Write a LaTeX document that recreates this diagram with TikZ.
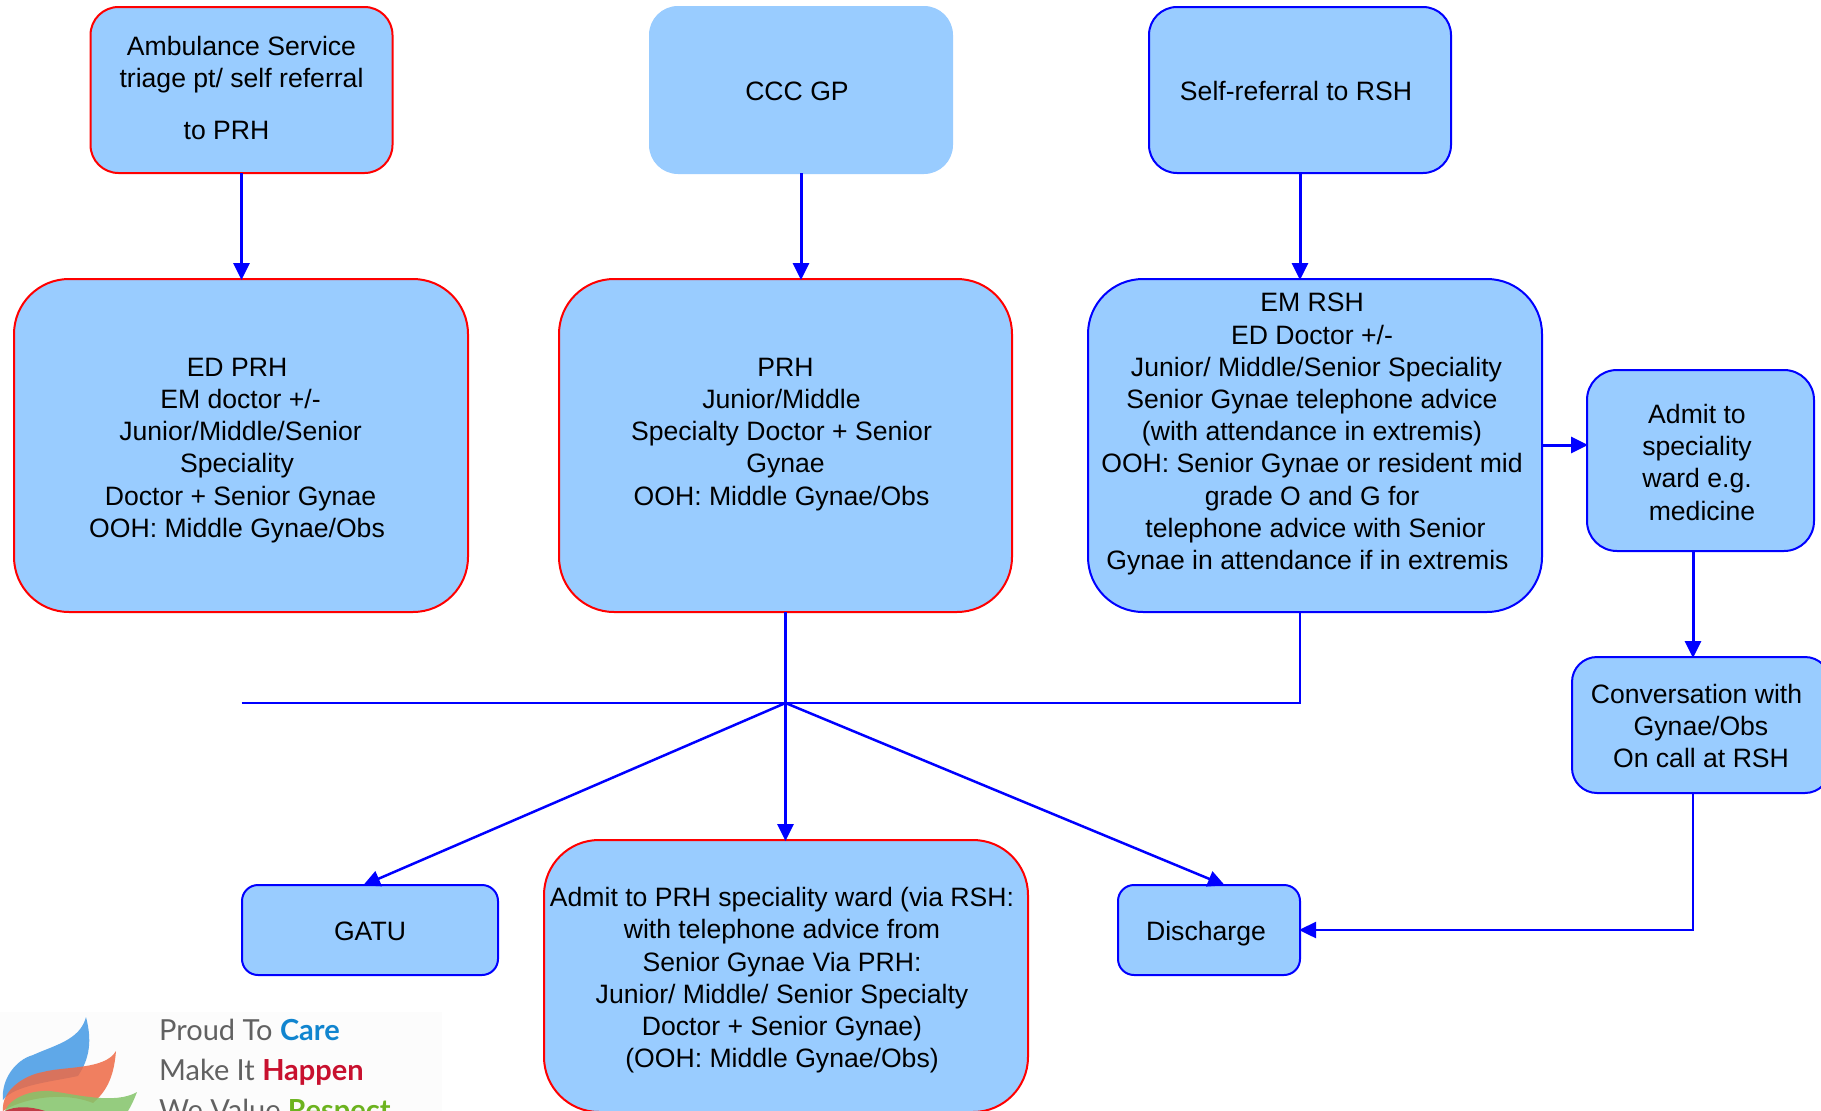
\documentclass[tikz,border=0pt]{standalone}
\usepackage{fontspec}
\setmainfont{Liberation Sans}
\newfontfamily\logofont{Lato}
\usetikzlibrary{arrows.meta}
\definecolor{boxfill}{HTML}{99CCFF}
\definecolor{logoblue}{HTML}{1185CF}
\definecolor{logored}{HTML}{C8102E}
\definecolor{logogreen}{HTML}{6CB31F}
\definecolor{leafblue}{HTML}{5FA8E8}
\definecolor{leafred}{HTML}{EE6A45}
\definecolor{leafgreen}{HTML}{84C46A}
\newcommand\tx[3]{\makebox[0pt]{\hspace*{#1}\raisebox{#2}[0pt][0pt]{\begin{tabular}[c]{@{}c@{}}#3\end{tabular}}}}
\tikzset{
  box/.style={draw=#1,fill=boxfill,line width=2pt,inner sep=0pt,outer sep=0pt,font=\fontsize{26.6}{32.2}\selectfont},
  box/.default=blue,
  flow/.style={draw=blue,line width=3pt,-{Triangle[length=17pt,width=16pt]},shorten >=-1pt},
  flowthin/.style={flow,line width=2.5pt},
  plain/.style={draw=blue,line width=2.2pt},
  logotext/.style={inner sep=0pt,anchor=base west,font=\logofont\fontsize{29}{32}\selectfont,text=black!62}
}
\begin{document}
\begin{tikzpicture}[x=1pt,y=-1pt]
\clip (0,0) rectangle (1821,1111);
\fill[white] (0,0) rectangle (1821,1111);
% logo
\fill[black!1] (0,1012) rectangle (442,1111);
\fill[leafblue] (86,1017) .. controls (92,1040) and (90,1058) .. (78,1076) .. controls (50,1082) and (15,1085) .. (3,1100) .. controls (1,1080) and (15,1060) .. (33,1055) .. controls (55,1045) and (80,1040) .. (86,1017) -- cycle;
\fill[leafred,opacity=.85] (116,1051) .. controls (114,1075) and (108,1090) .. (93,1103) .. controls (60,1090) and (20,1100) .. (3,1111) .. controls (1,1090) and (25,1075) .. (43,1072) .. controls (65,1066) and (105,1070) .. (116,1051) -- cycle;
\fill[leafgreen,opacity=.85] (137,1092) .. controls (134,1100) and (131,1106) .. (128,1111) -- (5,1111) .. controls (10,1098) and (30,1090) .. (50,1091) .. controls (75,1094) and (115,1105) .. (137,1092) -- cycle;
\fill[purple!70!red,opacity=.7] (5,1111) .. controls (15,1106) and (30,1106) .. (45,1111) -- cycle;
\node[logotext] (l1) at (159,1040) {Proud To \textcolor{logoblue}{\bfseries Care}};
\node[logotext] (l2) at (159,1080) {Make It \textcolor{logored}{\bfseries Happen}};
\node[logotext] (l3) at (159,1120) {We Value \textcolor{logogreen}{\bfseries Respect}};
% boxes
\node[box=red,rounded corners=28pt,minimum width=302pt,minimum height=166pt] (amb) at (241.5,90) {\tx{0pt}{-7pt}{Ambulance Service\\triage pt/ self referral\\[20pt]to PRH\hspace*{30pt}}};
\node[box=boxfill,rounded corners=28pt,minimum width=302pt,minimum height=166pt] (ccc) at (801,90) {\tx{-8pt}{-10pt}{CCC GP}};
\node[box,rounded corners=28pt,minimum width=302pt,minimum height=166pt] (self) at (1300,90) {\tx{-8pt}{-10pt}{Self-referral to RSH}};
\node[box=red,rounded corners=55pt,minimum width=454pt,minimum height=333pt] (ed) at (241,445.5) {\tx{-8pt}{-11pt}{ED PRH\\\hspace*{7pt}EM doctor +/-\\\hspace*{7pt}Junior/Middle/Senior\\Speciality\\\hspace*{7pt}Doctor + Senior Gynae\\OOH: Middle Gynae/Obs}};
\node[box=red,rounded corners=55pt,minimum width=453pt,minimum height=333pt] (prh) at (785.5,445.5) {\tx{-8pt}{5pt}{\hspace*{8pt}PRH\\Junior/Middle\\Specialty Doctor + Senior\\\hspace*{8pt}Gynae\\OOH: Middle Gynae/Obs}};
\node[box,rounded corners=55pt,minimum width=454pt,minimum height=333pt] (em) at (1315,445.5) {\tx{-6pt}{5pt}{EM RSH\\ED Doctor +/-\\\hspace*{9pt}Junior/ Middle/Senior Speciality\\Senior Gynae telephone advice\\(with attendance in extremis)\\OOH: Senior Gynae or resident mid\\grade O and G for\\\hspace*{7pt}telephone advice with Senior\\Gynae in attendance if in extremis\hspace*{9pt}}};
\node[box,rounded corners=30pt,minimum width=227pt,minimum height=181pt] (admit) at (1700.5,460.5) {\tx{-7pt}{-11pt}{Admit to\\speciality\\ward e.g.\\\hspace*{10pt}medicine}};
\node[box,rounded corners=25pt,minimum width=258pt,minimum height=136pt] (conv) at (1701,725) {\tx{0pt}{-10pt}{Conversation with\hspace*{9pt}\\Gynae/Obs\\On call at RSH}};
\node[box,rounded corners=16pt,minimum width=256pt,minimum height=90pt] (gatu) at (370,930) {\tx{0pt}{-10pt}{GATU}};
\node[box=red,rounded corners=55pt,minimum width=484pt,minimum height=272pt] (ward) at (786,976) {\tx{-8pt}{-11pt}{Admit to PRH speciality ward (via RSH:\\with telephone advice from\\Senior Gynae Via PRH:\\Junior/ Middle/ Senior Specialty\\Doctor + Senior Gynae)\\(OOH: Middle Gynae/Obs)}};
\node[box,rounded corners=16pt,minimum width=182pt,minimum height=90pt] (disc) at (1209,930) {\tx{-6pt}{-10pt}{Discharge}};
% connectors
\coordinate (hub) at (prh.south |- 0,703);
\coordinate (hl) at (amb.south |- 0,703);
\coordinate (hr) at (self.south |- 0,703);
\coordinate (gt) at (364,885);
\coordinate (dt) at (1224,885);
\coordinate (ad) at (1693,551);
\coordinate (cu) at (1693,657);
\coordinate (cd) at (1693,793);
\coordinate (adin) at (1587,445);
\draw[flow] (amb.south) -- (amb.south |- ed.north);
\draw[flow] (ccc.south) -- (ccc.south |- prh.north);
\draw[flow] (self.south) -- (self.south |- em.north);
\draw[plain] (hl) -- (hr) -- (self.south |- em.south);
\draw[plain] (prh.south) -- (hub);
\draw[flow] (hub) -- (hub |- ward.north);
\draw[flowthin] (hub) -- (gt);
\draw[flowthin] (hub) -- (dt);
\draw[flow] (em.east |- adin) -- (adin);
\draw[flow] (ad) -- (cu);
\draw[flowthin] (cd) |- (disc.east);
\end{tikzpicture}
\end{document}
